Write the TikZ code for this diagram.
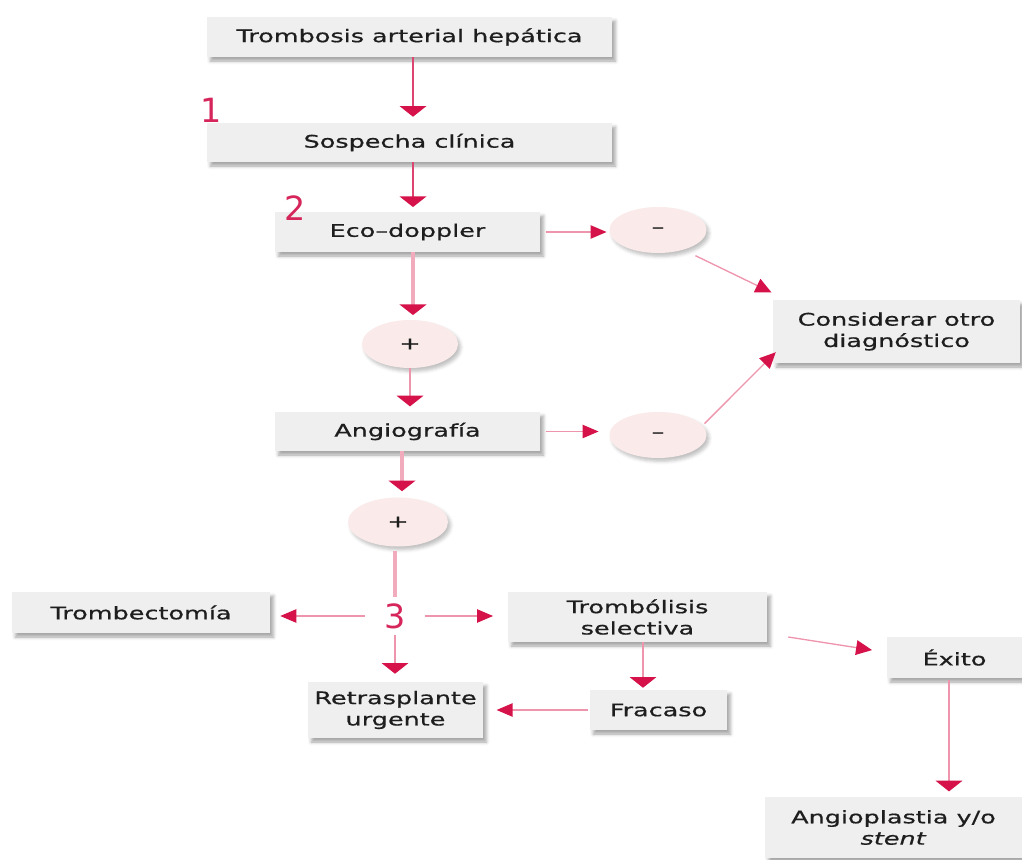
\documentclass[tikz,border=0pt]{standalone}
\usepackage{fontspec}
\setmainfont{DejaVu Sans}[FakeStretch=1.47,FakeBold=0.7]
\newfontfamily\numfont{DejaVu Sans}
\usetikzlibrary{arrows.meta,shapes.geometric,shadows.blur}
\definecolor{boxgray}{HTML}{EFEFEF}
\definecolor{circfill}{HTML}{FBEAEA}
\definecolor{linepink}{HTML}{EE94AD}
\definecolor{lightpink}{HTML}{F2AABD}
\definecolor{darkline}{HTML}{DC4570}
\definecolor{tipc}{HTML}{D5134A}
\definecolor{numc}{HTML}{D6255B}
\definecolor{textc}{HTML}{1E1E1E}
\tikzset{
  shad/.style={blur shadow={shadow xshift=2.5pt, shadow yshift=-3pt, shadow blur radius=2.5pt, shadow opacity=35}},
  box/.style={rectangle, fill=boxgray, inner sep=0pt, align=center, text=textc,
    font=\fontsize{13}{16}\selectfont, shad},
  oval/.style={ellipse, fill=circfill, inner sep=0pt, text=textc,
    font=\fontsize{13}{16}\selectfont, blur shadow={shadow xshift=2pt, shadow yshift=-2.5pt, shadow blur radius=2.5pt, shadow opacity=25}},
  num/.style={text=numc, inner sep=0pt, font=\numfont\fontsize{25}{25}\selectfont},
  conn/.style={draw=linepink, line width=1pt},
  dk/.style={draw=darkline, line width=1.3pt},
  thk/.style={draw=lightpink, line width=2.4pt},
  av/.style={conn, -{Triangle[width=20pt,length=8pt,color=tipc]}},
  ah/.style={conn, -{Triangle[width=10pt,length=12pt,color=tipc]}},
  ad/.style={conn, -{Triangle[width=11pt,length=12pt,color=tipc]}},
}
\begin{document}
\begin{tikzpicture}[x=0.75pt,y=-0.75pt]
\useasboundingbox (0,0) rectangle (1022,860);
% boxes
\node[box, minimum width=303.75pt, minimum height=30pt] (top) at (409.5,37) {Trombosis arterial hepática};
\node[box, minimum width=303.75pt, minimum height=29.25pt] (sosp) at (409.5,142.5) {Sospecha clínica};
\node[box, minimum width=198.75pt, minimum height=30pt] (eco) at (407.5,232) {Eco--doppler};
\node[box, minimum width=198.75pt, minimum height=29.25pt] (angio) at (407.5,431.5) {Angiografía};
\node[box, minimum width=185.25pt, minimum height=47.25pt] (consid) at (896.5,331.5) {Considerar otro\\diagnóstico};
\node[box, minimum width=193.5pt, minimum height=30.75pt] (tromb) at (141,612.5) {Trombectomía};
\node[box, minimum width=194.25pt, minimum height=37.5pt] (trombol) at (637.5,617) {Trombólisis\\selectiva};
\node[box, minimum width=131.25pt, minimum height=42pt] (retras) at (395.5,710) {Retrasplante\\urgente};
\node[box, minimum width=102.75pt, minimum height=30pt] (fracaso) at (658.5,710) {Fracaso};
\node[box, minimum width=101.25pt, minimum height=30.75pt] (exito) at (954.5,657.5) {Éxito};
\node[box, minimum width=192.75pt, minimum height=45.75pt] (angiop) at (893.5,827.5) {Angioplastia y/o\\\textit{stent}};
% ovals
\node[oval, minimum width=72.75pt, minimum height=34.5pt] (m1) at (658,230) {--};
\node[oval, minimum width=72pt, minimum height=36pt] (p1) at (410,344) {+};
\node[oval, minimum width=72.75pt, minimum height=34.5pt] (m2) at (658,435) {--};
\node[oval, minimum width=75pt, minimum height=36.75pt] (p2) at (398,522) {+};
% numbers
\node[num] (n1) at (211,110) {1};
\node[num] (n2) at (295,208) {2};
\node[num, minimum width=45pt, minimum height=28.5pt] (n3) at (395,616) {3};
% columns
\coordinate (cA) at (413,0);
\coordinate (cB) at (402,0);
\coordinate (cC) at (643,0);
\coordinate (cD) at (949,0);
% connectors
\draw[av, dk, shorten >=4.5pt] (top.south -| cA) -- (sosp.north -| cA);
\draw[av, dk, shorten >=3.5pt] (sosp.south -| cA) -- (eco.north -| cA);
\draw[av, thk, shorten >=3.5pt] (eco.south -| cA) -- (p1.north -| cA);
\draw[av, shorten >=4pt] (p1.south) -- (angio.north -| p1.south);
\draw[ah, shorten <=4pt, shorten >=2pt] (eco.east) -- (eco.east -| m1.west);
\draw[ah, shorten <=4pt, shorten >=8pt] (angio.east) -- (angio.east -| m2.west);
\draw[ad, shorten <=10pt, shorten >=1pt] (m1.-38) -- ([yshift=5pt]consid.north west);
\draw[ad, shorten <=2pt, shorten >=1pt] (m2.12) -- ([xshift=3pt,yshift=9pt]consid.south west);
\draw[av, thk, shorten >=4.5pt] (angio.south -| cB) -- (p2.north -| cB);
\draw[thk, shorten <=3pt] (p2.south -| n3.north) -- (n3.north);
\draw[ah, shorten >=7.5pt] (n3.west) -- (n3.west -| tromb.east);
\draw[ah, shorten >=11pt] (n3.east) -- (n3.east -| trombol.west);
\draw[av, shorten >=6pt] (n3.south) -- (retras.north -| n3.south);
\draw[av, shorten >=1.5pt] (trombol.south -| cC) -- (fracaso.north -| cC);
\draw[ah, shorten <=1.5pt, shorten >=10pt] (fracaso.west) -- (fracaso.west -| retras.east);
\draw[ad] ([xshift=15.75pt,yshift=-15pt]trombol.east) -- ([xshift=-11pt,yshift=-10pt]exito.north west);
\draw[av, shorten <=1.5pt, shorten >=4pt] (exito.south -| cD) -- (angiop.north -| cD);
\end{tikzpicture}
\end{document}
